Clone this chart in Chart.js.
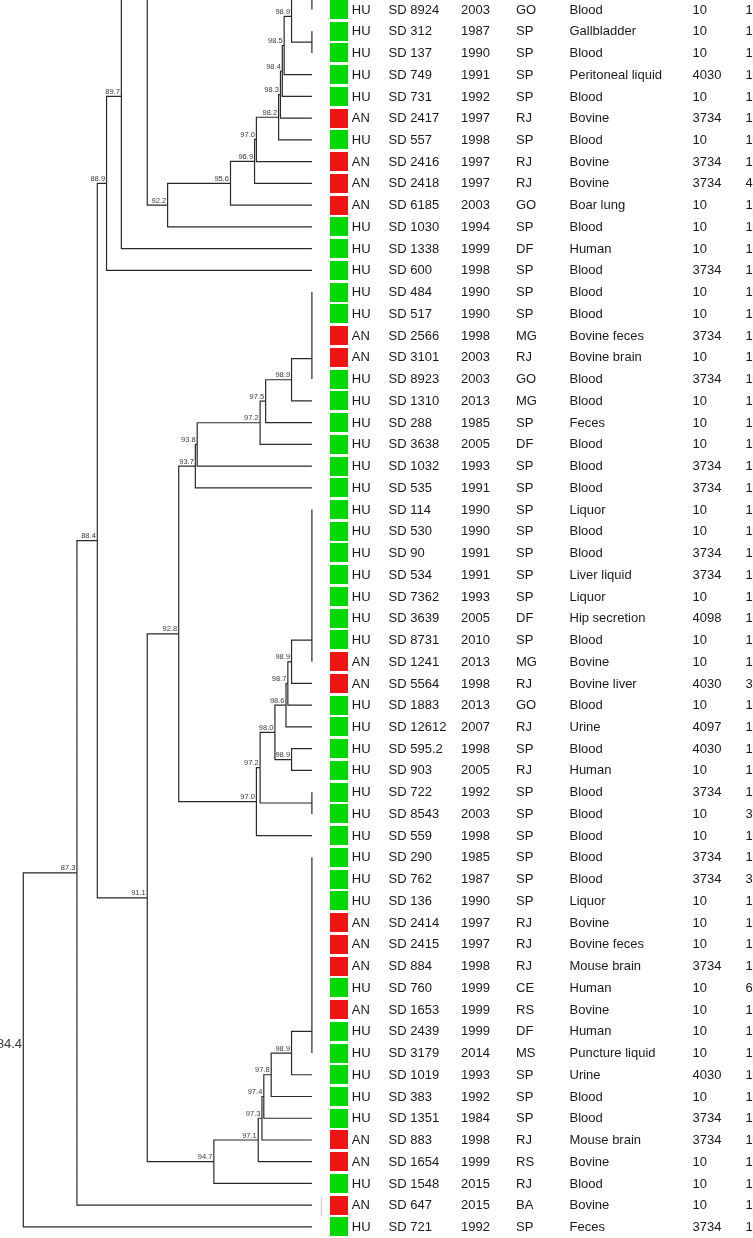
<!DOCTYPE html>
<html>
<head>
<meta charset="utf-8">
<script src="https://cdn.jsdelivr.net/npm/chart.js@4.4.1/dist/chart.umd.min.js"></script>
<style>
  html, body { margin: 0; padding: 0; background: #fff; }
  #wrap { width: 753px; height: 1238px; }
</style>
</head>
<body>
<div id="wrap"><canvas id="myChart" width="753" height="1238"></canvas></div>
<script>
// one entry per row, top to bottom
var host = ['HU','HU','HU','HU','HU','AN','HU','AN','AN','AN','HU','HU','HU','HU','HU','AN','AN','HU','HU','HU',
            'HU','HU','HU','HU','HU','HU','HU','HU','HU','HU','AN','AN','HU','HU','HU','HU','HU','HU','HU','HU',
            'HU','HU','AN','AN','AN','HU','AN','HU','HU','HU','HU','HU','AN','AN','HU','AN','HU'];
var strain = ['SD 8924','SD 312','SD 137','SD 749','SD 731','SD 2417','SD 557','SD 2416','SD 2418','SD 6185',
              'SD 1030','SD 1338','SD 600','SD 484','SD 517','SD 2566','SD 3101','SD 8923','SD 1310','SD 288',
              'SD 3638','SD 1032','SD 535','SD 114','SD 530','SD 90','SD 534','SD 7362','SD 3639','SD 8731',
              'SD 1241','SD 5564','SD 1883','SD 12612','SD 595.2','SD 903','SD 722','SD 8543','SD 559','SD 290',
              'SD 762','SD 136','SD 2414','SD 2415','SD 884','SD 760','SD 1653','SD 2439','SD 3179','SD 1019',
              'SD 383','SD 1351','SD 883','SD 1654','SD 1548','SD 647','SD 721'];
var year = [2003,1987,1990,1991,1992,1997,1998,1997,1997,2003,1994,1999,1998,1990,1990,1998,2003,2003,2013,1985,
            2005,1993,1991,1990,1990,1991,1991,1993,2005,2010,2013,1998,2013,2007,1998,2005,1992,2003,1998,1985,
            1987,1990,1997,1997,1998,1999,1999,1999,2014,1993,1992,1984,1998,1999,2015,2015,1992];
var state = ['GO','SP','SP','SP','SP','RJ','SP','RJ','RJ','GO','SP','DF','SP','SP','SP','MG','RJ','GO','MG','SP',
             'DF','SP','SP','SP','SP','SP','SP','SP','DF','SP','MG','RJ','GO','RJ','SP','RJ','SP','SP','SP','SP',
             'SP','SP','RJ','RJ','RJ','CE','RS','DF','MS','SP','SP','SP','RJ','RS','RJ','BA','SP'];
var source = ['Blood','Gallbladder','Blood','Peritoneal liquid','Blood','Bovine','Blood','Bovine','Bovine','Boar lung',
              'Blood','Human','Blood','Blood','Blood','Bovine feces','Bovine brain','Blood','Blood','Feces',
              'Blood','Blood','Blood','Liquor','Blood','Blood','Liver liquid','Liquor','Hip secretion','Blood',
              'Bovine','Bovine liver','Blood','Urine','Blood','Human','Blood','Blood','Blood','Blood',
              'Blood','Liquor','Bovine','Bovine feces','Mouse brain','Human','Bovine','Human','Puncture liquid','Urine',
              'Blood','Blood','Mouse brain','Bovine','Blood','Bovine','Feces'];
var code = [10,10,10,4030,10,3734,10,3734,3734,10,10,10,3734,10,10,3734,10,3734,10,10,
            10,3734,3734,10,10,3734,3734,10,4098,10,10,4030,10,4097,4030,10,3734,10,10,3734,
            3734,10,10,10,3734,10,10,10,10,4030,10,3734,3734,10,10,10,3734];
// last column, cut by the right edge of the figure
var lastCol = ['1','1','1','1','1','1','1','1','4','1','1','1','1','1','1','1','1','1','1','1',
               '1','1','1','1','1','1','1','1','1','1','1','3','1','1','1','1','1','3','1','1',
               '3','1','1','1','1','6','1','1','1','1','1','1','1','1','1','1','1'];

// rows with 100% similarity (first, last); negative rows sit above the crop
var sameGroups = { A: [-3, 0], B: [1, 2], C: [13, 17], D: [23, 30], E: [36, 37], F: [39, 48] };

// [node, child, child, similarity %]; numbers are rows, strings are nodes
var merges = [
  ['n1', 'A', 'B', 98.9], ['n2', 'n1', 3, 98.5], ['n3', 'n2', 4, 98.4], ['n4', 'n3', 5, 98.3],
  ['n5', 'n4', 6, 98.2], ['n6', 'n5', 7, 97.0], ['n7', 'n6', 8, 96.9], ['n8', 'n7', 9, 95.6],
  ['n9', 'n8', 10, 92.2], ['h1', -26, -4, 93.5], ['n10', 'h1', 'n9', 91.1], ['n11', 'n10', 11, 89.7],
  ['n12', 'n11', 12, 88.9],
  ['n13', 'C', 18, 98.9], ['n14', 'n13', 19, 97.5], ['n15', 'n14', 20, 97.2], ['n16', 'n15', 21, 93.8],
  ['n17', 'n16', 22, 93.7],
  ['n18', 'D', 31, 98.9], ['n19', 'n18', 32, 98.7], ['n20', 'n19', 33, 98.6], ['n21', 34, 35, 98.9],
  ['n22', 'n20', 'n21', 98.0], ['n23', 'n22', 'E', 97.2], ['n24', 'n23', 38, 97.0], ['n25', 'n17', 'n24', 92.8],
  ['n26', 'F', 49, 98.9], ['n27', 'n26', 50, 97.8], ['n28', 'n27', 51, 97.4], ['n29', 'n28', 52, 97.3],
  ['n30', 'n29', 53, 97.1], ['n31', 'n30', 54, 94.7], ['n32', 'n25', 'n31', 91.1],
  ['n33', 'n12', 'n32', 88.4], ['n34', 'n33', 55, 87.3], ['n35', 'n34', 56, 84.4]
];

// build the elbow lines of the dendrogram
var nodes = {}, lines = [], labels = [];
function ref(r) { return typeof r === 'number' ? { x: 100, y: r } : nodes[r]; }
function addMerge(id, a, b, sim) {
  var pa = ref(a), pb = ref(b);
  lines.push({ x: pa.x, y: pa.y }, { x: sim, y: pa.y }, { x: sim, y: pb.y }, { x: pb.x, y: pb.y }, { x: null, y: null });
  nodes[id] = { x: sim, y: (pa.y + pb.y) / 2 };
  if (sim < 100) labels.push(nodes[id]);
}
Object.keys(sameGroups).forEach(function (g) {
  var r = sameGroups[g], prev = r[0];
  for (var i = r[0] + 1; i <= r[1]; i++) {
    var id = i === r[1] ? g : g + '_' + i;
    addMerge(id, prev, i, 100);
    prev = id;
  }
});
merges.forEach(function (m) { addMerge(m[0], m[1], m[2], m[3]); });
var root = nodes[merges[merges.length - 1][0]];

// pixel anchors: 84.4% at x=23.3, 18.5px per %, row 0 at y=9.5, 21.74px per row
var W = 753, H = 1238;
var xMin = 84.4 - 23.3 / 18.5, xMax = 84.4 + (W - 23.3) / 18.5;
var yMin = -9.5 / 21.74, yMax = (H - 9.5) / 21.74;

var FONT = "'Liberation Sans', Arial, sans-serif";
var tablePlugin = {
  id: 'tablePlugin',
  afterDatasetsDraw: function (chart) {
    var ctx = chart.ctx, xs = chart.scales.x, ys = chart.scales.y;
    ctx.save();

    // node similarity labels
    ctx.fillStyle = '#3a3a3a';
    ctx.textAlign = 'right';
    ctx.textBaseline = 'middle';
    labels.forEach(function (n) {
      var px = xs.getPixelForValue(n.x), py = ys.getPixelForValue(n.y);
      if (n === root) {
        ctx.font = '13px ' + FONT;
        ctx.fillText(n.x.toFixed(1), px - 1.3, py - 5);
      } else {
        ctx.font = '7.5px ' + FONT;
        ctx.fillText(n.x.toFixed(1), px - 1.5, py - 4.5);
      }
    });

    // faint mark left of SD 647
    ctx.strokeStyle = '#d4d4d4';
    ctx.lineWidth = 1.5;
    ctx.beginPath();
    ctx.moveTo(321.5, ys.getPixelForValue(55) - 9);
    ctx.lineTo(321.5, ys.getPixelForValue(55) + 11);
    ctx.stroke();

    // table
    ctx.textAlign = 'left';
    ctx.font = '13px ' + FONT;
    for (var i = 0; i < strain.length; i++) {
      var y = ys.getPixelForValue(i);
      ctx.fillStyle = host[i] === 'HU' ? '#00d800' : '#f01414';
      ctx.fillRect(330, Math.round(y - 9.5), 18, 19);
      ctx.fillStyle = '#1a1a1a';
      ctx.fillText(host[i], 351.8, y + 0.5);
      ctx.fillText(strain[i], 388.6, y + 0.5);
      ctx.fillText(String(year[i]), 461, y + 0.5);
      ctx.fillText(state[i], 516, y + 0.5);
      ctx.fillText(source[i], 569.5, y + 0.5);
      ctx.fillText(String(code[i]), 692.6, y + 0.5);
      ctx.fillText(lastCol[i], 745.5, y + 0.5);
    }
    ctx.restore();
  }
};

var ctx = document.getElementById('myChart');
var myChart = new Chart(ctx, {
  type: 'scatter',
  data: {
    datasets: [{
      data: lines,
      showLine: true,
      spanGaps: false,
      borderColor: '#2a2a2a',
      borderWidth: 1.2,
      pointRadius: 0,
      pointHoverRadius: 0,
      tension: 0
    }]
  },
  options: {
    responsive: false,
    animation: false,
    devicePixelRatio: 1,
    layout: { padding: 0 },
    plugins: { legend: { display: false }, tooltip: { enabled: false } },
    scales: {
      x: { type: 'linear', display: false, min: xMin, max: xMax },
      y: { type: 'linear', display: false, reverse: true, min: yMin, max: yMax }
    }
  },
  plugins: [tablePlugin]
});
</script>
</body>
</html>
